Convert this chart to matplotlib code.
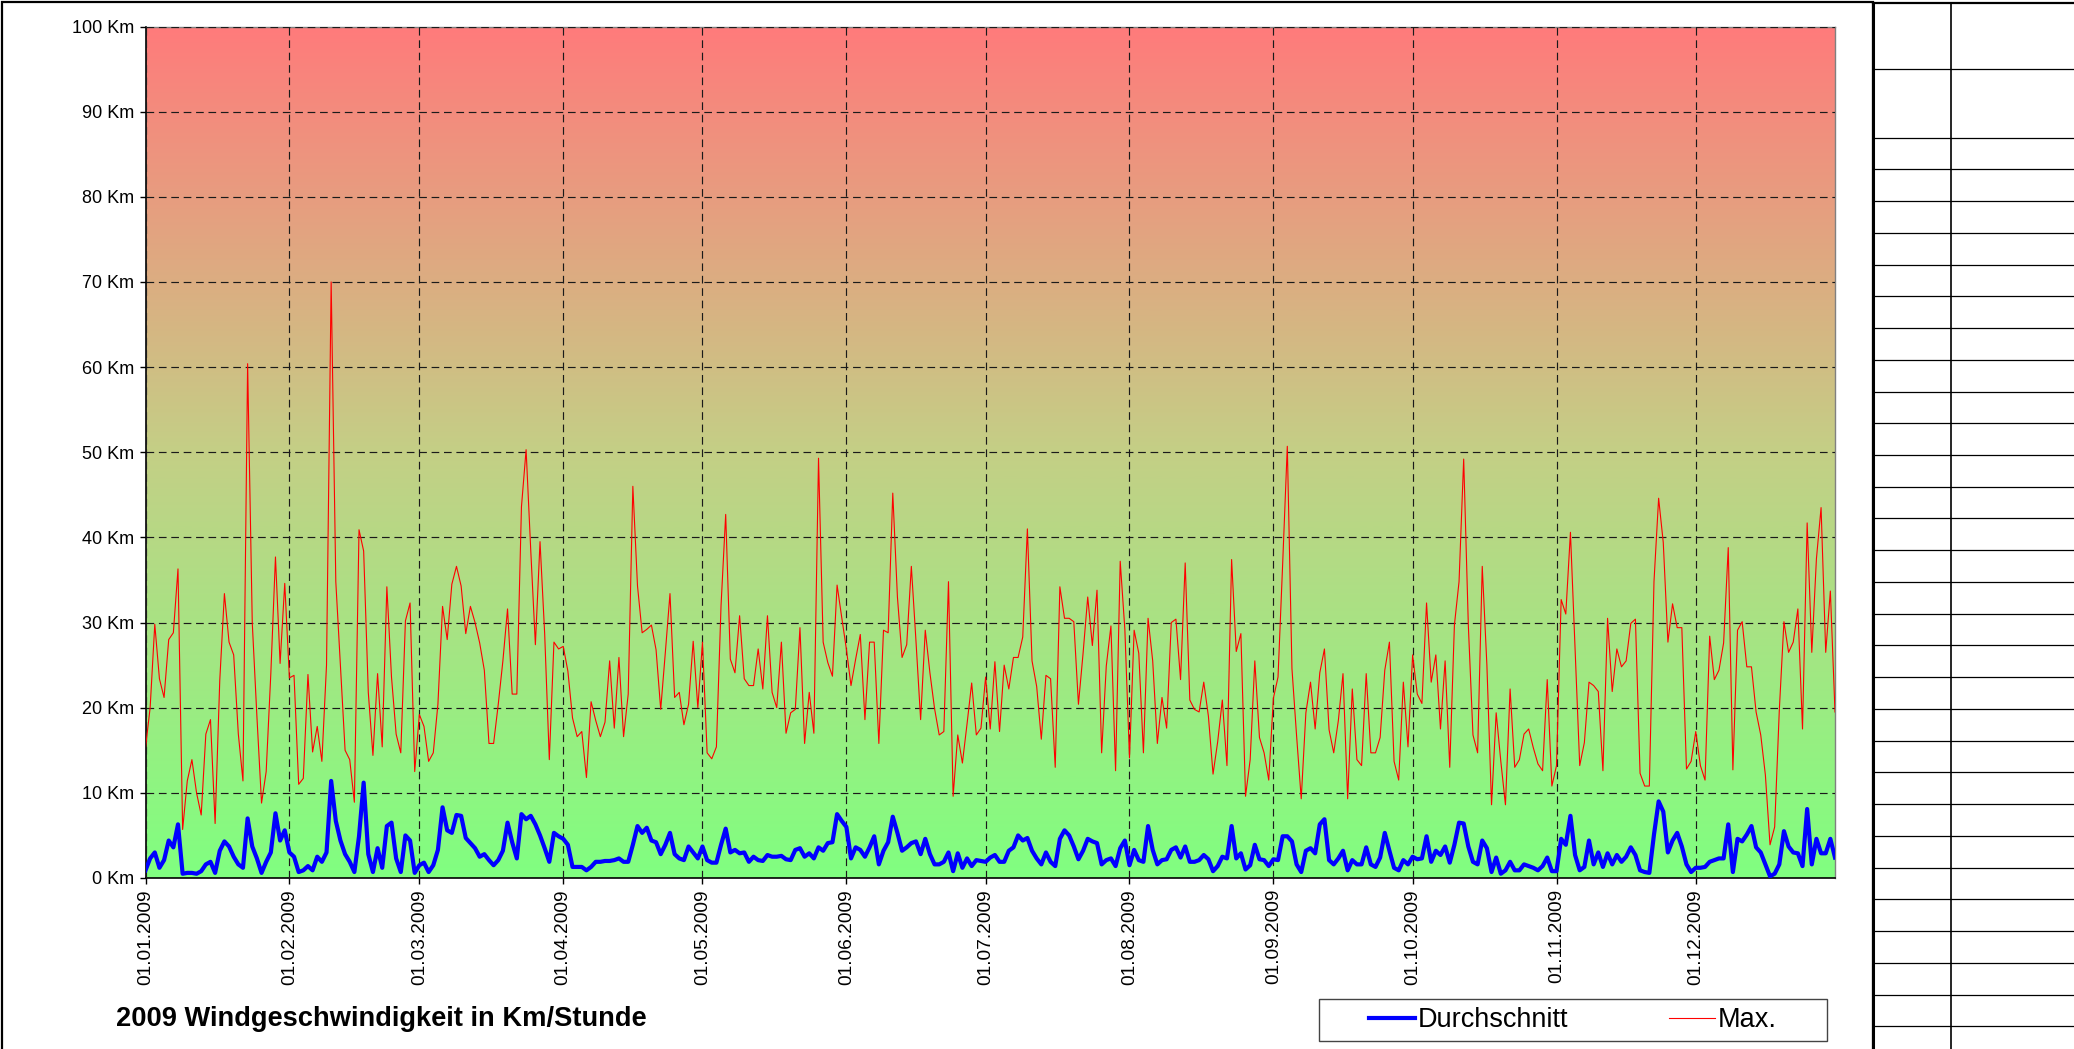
import numpy as np
import matplotlib
matplotlib.use("Agg")
import matplotlib.pyplot as plt
import matplotlib.dates as mdates
from matplotlib.colors import LinearSegmentedColormap
from matplotlib.lines import Line2D
from matplotlib.patches import Rectangle
import pandas as pd

plt.rcParams['font.family'] = ['Liberation Sans', 'DejaVu Sans']

# ---------------- data ----------------
dates = pd.date_range("2009-01-01", "2009-12-31", freq="D")

max_kmh = [
    15.3, 20.0, 29.8, 23.4, 21.2, 28.0, 28.8, 36.3, 5.7, 11.4,
    13.9, 10.0, 7.4, 16.9, 18.6, 6.4, 23.2, 33.4, 27.7, 26.2,
    16.9, 11.4, 60.4, 30.0, 19.0, 8.8, 12.5, 24.0, 37.7, 25.2,
    34.6, 23.5, 23.8, 11.0, 11.7, 23.9, 14.8, 17.8, 13.7, 25.0,
    70.0, 34.8, 25.0, 15.0, 13.9, 8.9, 40.9, 38.4, 21.8, 14.4,
    24.0, 15.4, 34.2, 23.6, 16.9, 14.7, 30.2, 32.3, 12.5, 19.2,
    17.8, 13.7, 14.7, 20.4, 31.9, 28.0, 34.5, 36.6, 34.3, 28.7,
    31.9, 30.0, 27.6, 24.4, 15.8, 15.8, 20.4, 25.5, 31.6, 21.6,
    21.6, 43.6, 50.3, 38.5, 27.4, 39.5, 28.7, 13.9, 27.7, 26.9,
    27.2, 24.3, 18.8, 16.6, 17.2, 11.8, 20.7, 18.5, 16.6, 18.3,
    25.5, 17.6, 25.9, 16.6, 21.6, 46.0, 34.3, 28.8, 29.2, 29.7,
    26.8, 19.8, 26.5, 33.4, 21.2, 21.8, 18.0, 20.4, 27.8, 20.0,
    27.7, 14.7, 14.0, 15.4, 32.0, 42.7, 25.7, 24.1, 30.8, 23.4,
    22.6, 22.6, 26.9, 22.2, 30.8, 21.8, 20.0, 27.7, 17.0, 19.4,
    19.8, 29.4, 15.8, 21.8, 17.0, 49.3, 27.7, 25.3, 23.7, 34.4,
    30.6, 26.9, 22.6, 25.7, 28.6, 18.6, 27.7, 27.7, 15.8, 29.1,
    28.8, 45.2, 33.0, 25.9, 27.4, 36.6, 27.8, 18.6, 29.1, 24.1,
    19.9, 16.8, 17.2, 34.8, 9.6, 16.8, 13.5, 18.1, 22.9, 16.8,
    17.6, 23.6, 17.5, 25.4, 17.2, 25.0, 22.2, 25.9, 25.9, 28.3,
    41.0, 25.5, 22.5, 16.3, 23.8, 23.4, 13.0, 34.2, 30.5, 30.5,
    30.1, 20.4, 26.4, 33.0, 27.3, 33.8, 14.7, 24.9, 29.6, 12.6,
    37.2, 29.2, 14.1, 29.1, 26.4, 14.7, 30.5, 25.5, 15.8, 21.2,
    17.6, 30.0, 30.4, 23.3, 37.0, 20.9, 19.8, 19.5, 23.0, 19.0,
    12.2, 16.0, 20.9, 13.2, 37.4, 26.6, 28.7, 9.6, 13.9, 25.5,
    16.5, 14.7, 11.5, 21.1, 23.6, 36.9, 50.7, 24.6, 16.7, 9.3,
    19.4, 23.0, 17.5, 24.1, 26.9, 17.4, 14.7, 18.5, 24.0, 9.3,
    22.2, 13.9, 13.2, 24.0, 14.7, 14.7, 16.5, 24.4, 27.7, 13.7,
    11.5, 23.0, 15.4, 26.2, 21.6, 20.5, 32.3, 23.0, 26.2, 17.5,
    25.5, 13.0, 29.7, 34.8, 49.2, 29.7, 16.8, 14.7, 36.6, 25.0,
    8.6, 19.4, 13.7, 8.6, 22.2, 13.0, 13.9, 16.9, 17.5, 15.3,
    13.4, 12.6, 23.3, 10.8, 13.2, 32.7, 31.0, 40.6, 26.9, 13.2,
    15.9, 23.0, 22.6, 21.9, 12.6, 30.5, 21.9, 26.9, 24.8, 25.5,
    29.9, 30.4, 12.3, 10.8, 10.8, 34.8, 44.6, 39.4, 27.7, 32.2,
    29.4, 29.4, 12.8, 13.7, 17.2, 13.2, 11.5, 28.4, 23.3, 24.4,
    27.6, 38.8, 12.7, 29.1, 30.1, 24.8, 24.8, 19.5, 16.8, 12.1,
    3.9, 6.0, 19.7, 30.1, 26.5, 27.7, 31.6, 17.5, 41.7, 26.5,
    37.5, 43.5, 26.5, 33.7, 19.5,
]

avg_kmh = [
    0.9, 2.3, 3.0, 1.2, 2.1, 4.4, 3.6, 6.3, 0.5, 0.6,
    0.6, 0.5, 0.8, 1.6, 1.9, 0.6, 3.2, 4.3, 3.7, 2.5,
    1.6, 1.2, 7.0, 3.7, 2.3, 0.6, 1.9, 3.0, 7.6, 4.4,
    5.6, 3.0, 2.5, 0.7, 0.9, 1.4, 0.9, 2.5, 1.9, 3.0,
    11.4, 6.7, 4.4, 2.8, 1.9, 0.7, 4.9, 11.2, 2.8, 0.7,
    3.5, 1.2, 6.1, 6.5, 2.3, 0.7, 5.0, 4.4, 0.6, 1.5,
    1.8, 0.7, 1.5, 3.3, 8.3, 5.6, 5.3, 7.4, 7.3, 4.7,
    4.1, 3.5, 2.5, 2.8, 2.1, 1.5, 2.1, 3.2, 6.5, 4.2,
    2.3, 7.5, 6.9, 7.3, 6.3, 5.0, 3.5, 1.9, 5.3, 4.9,
    4.6, 3.9, 1.3, 1.3, 1.3, 0.9, 1.3, 1.9, 1.9, 2.0,
    2.0, 2.1, 2.3, 1.9, 1.9, 3.9, 6.1, 5.3, 5.9, 4.4,
    4.2, 2.8, 3.9, 5.3, 2.8, 2.3, 2.1, 3.7, 3.0, 2.3,
    3.7, 2.1, 1.8, 1.8, 3.9, 5.8, 3.0, 3.3, 2.9, 3.0,
    1.9, 2.5, 2.1, 2.0, 2.7, 2.5, 2.5, 2.6, 2.2, 2.1,
    3.3, 3.5, 2.5, 2.9, 2.3, 3.6, 3.2, 4.1, 4.2, 7.5,
    6.7, 6.0, 2.3, 3.6, 3.3, 2.5, 3.6, 4.9, 1.6, 3.2,
    4.2, 7.2, 5.3, 3.2, 3.6, 4.1, 4.3, 2.8, 4.6, 2.8,
    1.6, 1.6, 1.9, 3.0, 0.8, 2.9, 1.2, 2.3, 1.4, 2.1,
    2.0, 1.9, 2.4, 2.7, 1.9, 1.9, 3.2, 3.6, 5.0, 4.4,
    4.7, 3.2, 2.3, 1.6, 3.0, 1.9, 1.4, 4.6, 5.6, 5.0,
    3.7, 2.2, 3.2, 4.6, 4.3, 4.1, 1.6, 2.1, 2.3, 1.4,
    3.5, 4.4, 1.5, 3.3, 2.1, 1.9, 6.1, 3.3, 1.6, 2.1,
    2.2, 3.3, 3.6, 2.4, 3.7, 1.9, 1.9, 2.1, 2.7, 2.2,
    0.8, 1.4, 2.5, 2.3, 6.1, 2.3, 2.9, 1.0, 1.5, 3.9,
    2.2, 2.1, 1.4, 2.2, 2.1, 4.9, 4.9, 4.3, 1.6, 0.7,
    3.2, 3.5, 2.9, 6.3, 6.9, 2.1, 1.6, 2.3, 3.2, 0.9,
    2.1, 1.6, 1.6, 3.6, 1.6, 1.3, 2.4, 5.3, 3.2, 1.2,
    0.9, 2.1, 1.6, 2.5, 2.2, 2.3, 4.9, 1.9, 3.2, 2.7,
    3.7, 1.8, 3.9, 6.5, 6.4, 3.7, 1.9, 1.6, 4.4, 3.5,
    0.7, 2.4, 0.5, 0.9, 1.9, 0.9, 0.9, 1.6, 1.4, 1.2,
    0.9, 1.4, 2.4, 0.8, 0.8, 4.6, 3.9, 7.3, 2.7, 0.9,
    1.3, 4.4, 1.6, 3.0, 1.3, 2.9, 1.6, 2.7, 1.9, 2.5,
    3.6, 2.7, 0.9, 0.7, 0.6, 5.1, 9.0, 7.8, 3.0, 4.4,
    5.3, 3.7, 1.6, 0.7, 1.2, 1.2, 1.3, 1.9, 2.1, 2.3,
    2.3, 6.3, 0.7, 4.6, 4.3, 5.1, 6.1, 3.6, 3.0, 1.6,
    0.2, 0.5, 1.6, 5.5, 3.7, 3.0, 2.9, 1.4, 8.1, 1.6,
    4.6, 2.9, 2.9, 4.6, 2.4,
]

month_starts = pd.date_range("2009-01-01", periods=12, freq="MS")
month_labels = [d.strftime("%d.%m.%Y") for d in month_starts]
y_ticks = list(range(0, 101, 10))
y_labels = [f"{v} Km" for v in y_ticks]
title_text = "2009 Windgeschwindigkeit in Km/Stunde"
series_names = ["Durchschnitt", "Max."]

n = min(len(dates), len(max_kmh), len(avg_kmh))

# ---------------- figure ----------------
W, H = 2074, 1049
fig = plt.figure(figsize=(W / 100, H / 100), dpi=100)
fig.patch.set_facecolor("white")

def fx(px):
    return px / W

def fy(py):
    return 1 - py / H

left, right, top, bottom = 145.5, 1835, 26.5, 878
ax = fig.add_axes([fx(left), fy(bottom), fx(right - left), (bottom - top) / H])

# gradient background (red top -> green bottom)
cmap = LinearSegmentedColormap.from_list(
    "bg", [(0.0, "#80FF80"), (0.5, "#C4CF86"), (1.0, "#FF7B7B")])
grad = np.linspace(0, 1, 512).reshape(-1, 1)
ax.imshow(grad, cmap=cmap, extent=[0, 1, 0, 1], transform=ax.transAxes,
          aspect="auto", origin="lower", zorder=0, interpolation="bilinear")

x0, x1 = mdates.date2num(dates[0]), mdates.date2num(dates[n - 1])

l_max, = ax.plot(dates[:n], max_kmh[:n], color="#FF0000", lw=0.8, zorder=3,
                 label=series_names[1])
l_avg, = ax.plot(dates[:n], avg_kmh[:n], color="#0000FF", lw=3.0, zorder=4,
                 label=series_names[0], solid_joinstyle="round")

ax.set_xlim(x0, x1)
ax.set_ylim(0, 100)
ax.set_yticks(y_ticks)
ax.set_yticklabels(y_labels)
ax.set_xticks(month_starts)
ax.set_xticklabels(month_labels, rotation=90, va="top", ha="center")

ax.grid(True, color="#1a1a1a", lw=0.85, linestyle=(0, (6.5, 4)), zorder=1)
ax.set_axisbelow(False)
for gl in ax.get_xgridlines() + ax.get_ygridlines():
    gl.set_zorder(1)

ax.tick_params(axis="both", direction="out", length=4, width=1, color="black",
               labelcolor="black")
ax.tick_params(axis="y", pad=4, labelsize=13)
ax.tick_params(axis="x", pad=4, labelsize=13.8)

for s in ["left", "bottom"]:
    ax.spines[s].set_color("#000000")
    ax.spines[s].set_linewidth(1.2)
for s in ["top", "right"]:
    ax.spines[s].set_color("#808080")
    ax.spines[s].set_linewidth(1.0)

# title
fig.text(fx(116), fy(1019), title_text, fontsize=19.6, fontweight="bold",
         ha="left", va="center", color="black")

# legend (frame drawn separately to match the wide box)
fig.add_artist(Rectangle((fx(1319), fy(1041)), fx(1827 - 1319), (1041 - 999) / H,
                         transform=fig.transFigure, facecolor="white",
                         edgecolor="#444444", lw=1.0, zorder=5))
leg = fig.legend(handles=[l_avg, l_max], labels=series_names, ncol=2,
                 loc="center", bbox_to_anchor=(fx(1573), fy(1020)),
                 fontsize=19.5, frameon=False,
                 handlelength=1.7, handletextpad=0.1, columnspacing=3.7,
                 borderpad=0.2, borderaxespad=0)
leg.set_zorder(6)

# chart border and side table
fig.add_artist(Rectangle((fx(2), fy(1060)), fx(1873 - 2), (1060 - 2) / H,
                         transform=fig.transFigure, fill=False,
                         edgecolor="black", lw=1.6))
fig.add_artist(Line2D([fx(1873), 1], [fy(3), fy(3)], transform=fig.transFigure,
                      color="black", lw=1.6))
fig.add_artist(Line2D([fx(1873), fx(1873)], [fy(3), 0], transform=fig.transFigure,
                      color="black", lw=2.2))
fig.add_artist(Line2D([fx(1951), fx(1951)], [fy(3), 0], transform=fig.transFigure,
                      color="black", lw=1.2))
rows = [69] + [137.6 + 31.74 * k for k in range(29)]
for r in rows:
    fig.add_artist(Line2D([fx(1873), 1], [fy(r), fy(r)], transform=fig.transFigure,
                          color="black", lw=0.9))

fig.savefig("out.png", dpi=100, facecolor="white")
